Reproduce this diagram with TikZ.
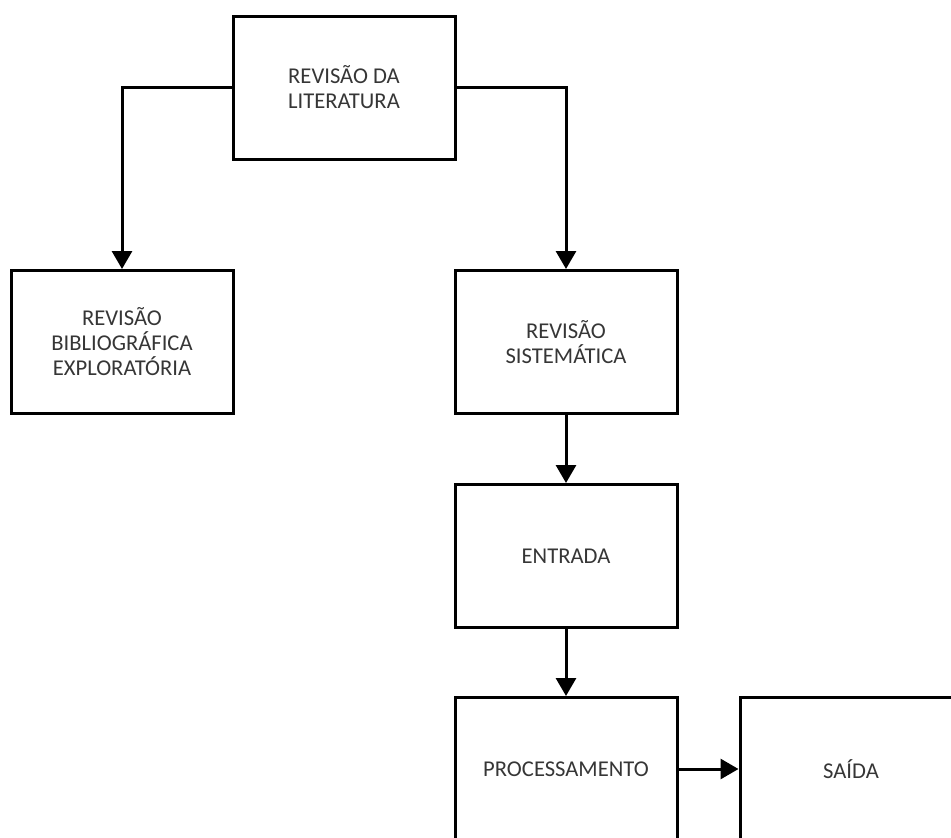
\documentclass[tikz,border=0pt]{standalone}
\usepackage{fontspec}
\setmainfont{Carlito}
\usepackage{tikz}
\usetikzlibrary{arrows.meta}
\definecolor{ink}{HTML}{000000}
\definecolor{txt}{HTML}{363636}
\tikzset{
  box/.style={draw=ink, line width=3pt, minimum width=222pt, minimum height=143pt,
    align=center, text=txt, font=\fontsize{22.6}{25}\selectfont, inner sep=0pt},
  arr/.style={draw=ink, line width=3pt, -{Triangle[length=18pt,width=20pt]}},
}

\begin{document}
\begin{tikzpicture}[x=1pt,y=-1pt]
  \useasboundingbox (0,0) rectangle (951,838);
  \node[box] (lit) at (344,87.5) {REVISÃO DA\\LITERATURA};
  \node[box] (bib) at (122,342) {REVISÃO\\BIBLIOGRÁFICA\\EXPLORATÓRIA};
  \node[box] (sis) at (566,342) {REVISÃO\\SISTEMÁTICA};
  \node[box] (ent) at (566,556) {ENTRADA};
  \node[box] (pro) at (566,769) {PROCESSAMENTO};
  \node[box] (sai) at (851,769) {SAÍDA};
  \draw[arr] (lit.west) -| (bib.north);
  \draw[arr] (lit.east) -| (sis.north);
  \foreach \A/\B in {sis/ent,ent/pro}
    \draw[arr] (\A.south) -- (\B.north);
  \draw[arr] (pro.east) -- (sai.west);
\end{tikzpicture}
\end{document}
